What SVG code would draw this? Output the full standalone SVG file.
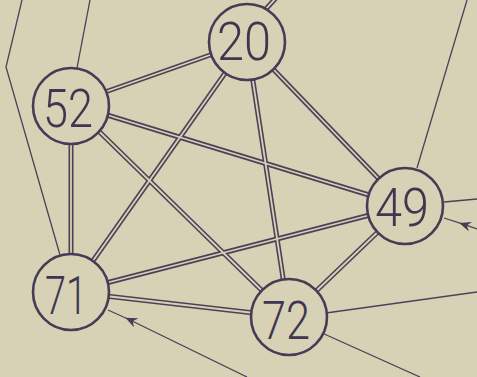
<svg xmlns="http://www.w3.org/2000/svg" width="477" height="377" viewBox="0 0 477 377">
<style>
.bg{fill:#d7d2b6}
.thin{stroke:#4a4258;stroke-width:1.3;fill:none}
.dbl{stroke:#4a4258;stroke-width:5;fill:none}
.dbli{stroke:#d7d2b6;stroke-width:1.8;fill:none}
.node circle{fill:#d7d2b6;stroke:#453c55;stroke-width:2.6}
.node text{font-family:Roboto,"Open Sans","Liberation Sans",sans-serif;font-weight:300;font-size:53px;fill:#3f3650;text-anchor:middle}
</style>
<defs>
<marker id="ah" viewBox="0 0 12 10" refX="8" refY="5" markerWidth="12" markerHeight="10" markerUnits="userSpaceOnUse" orient="auto">
<path d="M12,5 L0,0 L4,5 L0,10 Z" fill="#453c55"/>
</marker>
</defs>
<rect class="bg" x="0" y="0" width="477" height="377"/>
<g id="connectors">
<polyline class="thin" points="22,0 6,67 60,255"/>
<line class="thin" x1="77" y1="68" x2="90" y2="0"/>
<line class="thin" x1="417" y1="168" x2="467" y2="0"/>
<line class="thin" x1="444" y1="202" x2="477" y2="199"/>
<polyline class="thin" points="477,229 463,224.2 444,218" marker-mid="url(#ah)"/>
<line class="thin" x1="326" y1="313" x2="477" y2="292"/>
<line class="thin" x1="322" y1="333" x2="420" y2="377"/>
<polyline class="thin" points="247,377 129,319.5 108,310" marker-mid="url(#ah)"/>
<g>
<line class="dbl" x1="265" y1="10" x2="276" y2="-2"/>
<line class="dbl" x1="71" y1="104" x2="247" y2="42"/>
<line class="dbl" x1="71" y1="104" x2="405" y2="206"/>
<line class="dbl" x1="71" y1="104" x2="289" y2="317"/>
<line class="dbl" x1="71" y1="104" x2="71" y2="292"/>
<line class="dbl" x1="247" y1="42" x2="71" y2="292"/>
<line class="dbl" x1="247" y1="42" x2="289" y2="317"/>
<line class="dbl" x1="247" y1="42" x2="405" y2="206"/>
<line class="dbl" x1="71" y1="292" x2="405" y2="206"/>
<line class="dbl" x1="71" y1="292" x2="289" y2="317"/>
<line class="dbl" x1="289" y1="317" x2="405" y2="206"/>
<line class="dbli" x1="265" y1="10" x2="276" y2="-2"/>
<line class="dbli" x1="71" y1="104" x2="247" y2="42"/>
<line class="dbli" x1="71" y1="104" x2="405" y2="206"/>
<line class="dbli" x1="71" y1="104" x2="289" y2="317"/>
<line class="dbli" x1="71" y1="104" x2="71" y2="292"/>
<line class="dbli" x1="247" y1="42" x2="71" y2="292"/>
<line class="dbli" x1="247" y1="42" x2="289" y2="317"/>
<line class="dbli" x1="247" y1="42" x2="405" y2="206"/>
<line class="dbli" x1="71" y1="292" x2="405" y2="206"/>
<line class="dbli" x1="71" y1="292" x2="289" y2="317"/>
<line class="dbli" x1="289" y1="317" x2="405" y2="206"/>
</g>
</g>
<g id="n20" class="node"><circle cx="247" cy="42" r="38"/><text x="244" y="60" textLength="54" lengthAdjust="spacingAndGlyphs">20</text></g>
<g id="n52" class="node"><circle cx="71" cy="106" r="38"/><text x="68" y="127" textLength="50" lengthAdjust="spacingAndGlyphs">52</text></g>
<g id="n71" class="node"><circle cx="71" cy="292" r="38"/><text x="66" y="314" textLength="42" lengthAdjust="spacingAndGlyphs">71</text></g>
<g id="n72" class="node"><circle cx="289" cy="317" r="38"/><text x="286" y="339" textLength="48" lengthAdjust="spacingAndGlyphs">72</text></g>
<g id="n49" class="node"><circle cx="405" cy="206" r="38"/><text x="402" y="226" textLength="54" lengthAdjust="spacingAndGlyphs">49</text></g>
</svg>
